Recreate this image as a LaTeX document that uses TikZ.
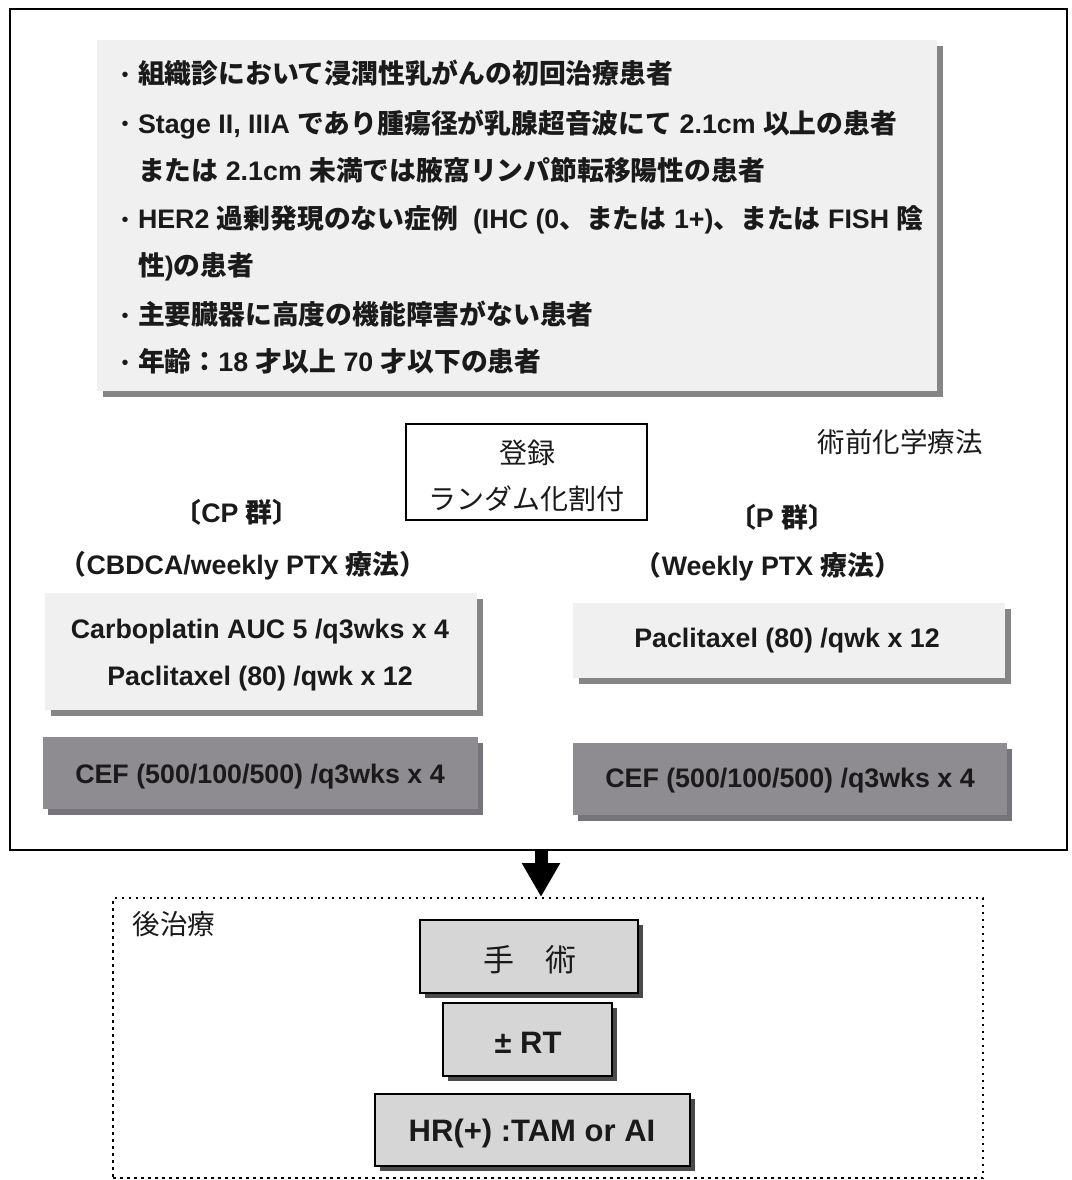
\documentclass[tikz,border=0pt]{standalone}
\usepackage{fontspec}
\setmainfont{Liberation Sans}
\newfontfamily\jp{Noto Sans CJK JP}
\usetikzlibrary{shadows,arrows.meta}
\definecolor{paperfill}{HTML}{F0F0F0}
\definecolor{papershadow}{HTML}{858585}
\definecolor{ceffill}{HTML}{8E8B91}
\definecolor{cefshadow}{HTML}{76737A}
\definecolor{postfill}{HTML}{D6D6D6}
\definecolor{postshadow}{HTML}{4A4A4A}
\definecolor{inktext}{HTML}{1A1A1A}
\newcommand\J[1]{{\jp #1}}
\begin{document}
\begin{tikzpicture}[x=1pt,y=-1pt,
  every node/.style={inner sep=0pt,outer sep=0pt},
  framebox/.style={rectangle,draw=black,line width=2.5pt},
  panel/.style={rectangle,fill=paperfill,drop shadow={shadow xshift=6pt,shadow yshift=-6pt,fill=papershadow,opacity=1}},
  cefbox/.style={rectangle,fill=ceffill,drop shadow={shadow xshift=5pt,shadow yshift=-6pt,fill=cefshadow,opacity=1}},
  postbox/.style={rectangle,draw=black,line width=2pt,fill=postfill,drop shadow={shadow xshift=5pt,shadow yshift=-5pt,fill=postshadow,opacity=1}},
  regbox/.style={rectangle,draw=black,line width=1.6pt,fill=white},
  dotbox/.style={rectangle,draw=black,line width=2.5pt,dash pattern=on 2.5pt off 4.5pt},
  critline/.style={anchor=west,text=inktext,font=\fontsize{26.8}{32}\selectfont\bfseries,text height=20pt,text depth=0pt},
  bulletmark/.style={text=inktext,font=\fontsize{20}{24}\selectfont,text height=16pt,text depth=0pt},
  lbl/.style={text=inktext,font=\fontsize{26.8}{32}\selectfont\bfseries,text height=20pt,text depth=0pt},
  plainlbl/.style={text=inktext,font=\fontsize{27.5}{32}\selectfont\jp,text height=21pt,text depth=0pt},
  regtxt/.style={text=inktext,font=\fontsize{28}{32}\selectfont\jp,text height=21pt,text depth=0pt},
  posttxt/.style={text=inktext,font=\fontsize{31}{36}\selectfont\bfseries,text height=22pt,text depth=0pt},
  postjp/.style={text=inktext,font=\fontsize{31}{36}\selectfont\jp,text height=23pt,text depth=0pt},
  bigarrow/.style={line width=13pt,-{Triangle[width=36pt,length=34pt]}}
]
\useasboundingbox (0,0) rectangle (1071,1180);
\fill[white] (0,0) rectangle (1071,1180);

% outer frame
\node[framebox,minimum width=1057pt,minimum height=841pt] (outer) at (538.5,429.5) {};

% criteria panel
\node[panel,minimum width=840pt,minimum height=351pt] (crit) at (517,215.5) {};
\node[bulletmark] (b1) at (125,74) {•};
\node[critline] (c1) at (138,74) {\J{組織診において浸潤性乳がんの初回治療患者}};
\node[bulletmark] (b2) at (125,123) {•};
\node[critline] (c2) at (138,123) {Stage II, IIIA \J{であり腫瘍径が乳腺超音波にて} 2.1cm \J{以上の患者}};
\node[critline] (c3) at (138,170) {\J{または} 2.1cm \J{未満では腋窩リンパ節転移陽性の患者}};
\node[bulletmark] (b4) at (125,218) {•};
\node[critline] (c4) at (138,218) {HER2 \J{過剰発現のない症例}\ \ (IHC (0\J{、または} 1+)\J{、または} FISH \J{陰}};
\node[critline] (c5) at (138,265) {\J{性})\J{の患者}};
\node[bulletmark] (b6) at (125,314) {•};
\node[critline] (c6) at (138,314) {\J{主要臓器に高度の機能障害がない患者}};
\node[bulletmark] (b7) at (125,361) {•};
\node[critline] (c7) at (138,361) {\J{年齢：}18 \J{才以上} 70 \J{才以下の患者}};

% pre-op label and registration
\node[plainlbl] (pre) at (900,442) {術前化学療法};
\node[regbox,minimum width=241pt,minimum height=96pt] (reg) at (526.5,472) {};
\node[regtxt] (reg1) at (527,453) {登録};
\node[regtxt] (reg2) at (526,499) {ランダム化割付};

% group labels
\node[lbl] (cpg) at (237,512) {\J{〔}CP \J{群〕}};
\node[lbl] (cpt) at (243,564) {\J{（}CBDCA/weekly PTX \J{療法）}};
\node[lbl] (pg) at (782,517) {\J{〔}P \J{群〕}};
\node[lbl] (pt) at (768,565) {\J{（}Weekly PTX \J{療法）}};

% regimen boxes
\node[panel,minimum width=432pt,minimum height=117pt] (cpbox) at (261,651.5) {};
\node[lbl] (cp1) at (260,628) {Carboplatin AUC 5 /q3wks x 4};
\node[lbl] (cp2) at (260,675) {Paclitaxel (80) /qwk x 12};
\node[panel,minimum width=432pt,minimum height=75pt] (pbox) at (789,640.5) {};
\node[lbl] (p1) at (787,637) {Paclitaxel (80) /qwk x 12};
\node[cefbox,minimum width=435pt,minimum height=72pt] (cefl) at (260.5,773) {};
\node[lbl] (cefltxt) at (260,773) {CEF (500/100/500) /q3wks x 4};
\node[cefbox,minimum width=434pt,minimum height=72pt] (cefr) at (790,779) {};
\node[lbl] (cefrtxt) at (790,777) {CEF (500/100/500) /q3wks x 4};

% post-treatment
\node[dotbox,minimum width=870pt,minimum height=280pt] (post) at (548,1038) {};
\node[plainlbl] (postlbl) at (174,924) {後治療};
\node[postbox,minimum width=218pt,minimum height=73pt] (surg) at (529,956.5) {};
\node[postjp] (surgtxt) at (530,960) {手　術};
\node[postbox,minimum width=169pt,minimum height=73pt] (rt) at (527.5,1039.5) {};
\node[posttxt] (rttxt) at (528,1042) {± RT};
\node[postbox,minimum width=315pt,minimum height=72pt] (hr) at (532.5,1130) {};
\node[posttxt] (hrtxt) at (532,1130) {HR(+) :TAM or AI};

% arrow
\coordinate (arrowtop) at (541,851);
\coordinate (arrowend) at (541,897);
\draw[bigarrow] (arrowtop) -- (arrowend);
\end{tikzpicture}
\end{document}
